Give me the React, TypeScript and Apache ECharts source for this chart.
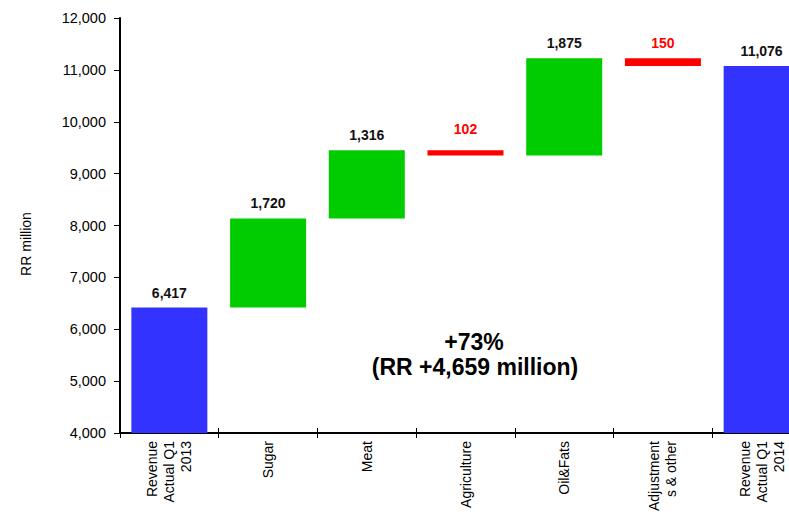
import React, { useEffect, useRef } from "react";
import * as echarts from "echarts";

const categories = [
  "Revenue\nActual Q1\n2013",
  "Sugar",
  "Meat",
  "Agriculture",
  "Oil&Fats",
  "Adjustment\ns & other",
  "Revenue\nActual Q1\n2014",
];
const changes = [6417, 1720, 1316, -102, 1875, -150, 11076];
const kinds = ["total", "delta", "delta", "delta", "delta", "delta", "total"];
const yTicks = { min: 4000, max: 12000, interval: 1000 };
const annotationLines = ["+73%", "(RR +4,659 million)"];
const yAxisTitle = "RR million";

const COLORS = { total: "#3333ff", up: "#00cc00", down: "#ff0000" };
const FONT = "'Liberation Sans', Arial, sans-serif";

function fmt(v: number) {
  return Math.abs(v).toLocaleString("en-US");
}

export default function App() {
  const ref = useRef<HTMLDivElement>(null);
  useEffect(() => {
    if (!ref.current) return;
    const chart = echarts.init(ref.current, undefined, { renderer: "svg" });

    const bases: number[] = [];
    const heights: any[] = [];
    let running = 0;
    changes.forEach((c, i) => {
      let base = 0;
      let h = 0;
      let color = COLORS.total;
      if (kinds[i] === "total") {
        base = 0;
        h = c;
        running = c;
      } else if (c >= 0) {
        base = running;
        h = c;
        running += c;
        color = COLORS.up;
      } else {
        base = running + c;
        h = -c;
        running += c;
        color = COLORS.down;
      }
      bases.push(base);
      heights.push({
        value: h,
        itemStyle: { color },
        label: {
          color: color === COLORS.down ? "#ff0000" : "#111",
          distance: i === 3 ? 14 : 8,
        },
      });
    });

    chart.setOption({
      animation: false,
      backgroundColor: "#ffffff",
      grid: {
        left: 120,
        right: -22,
        top: 18,
        bottom: 79,
        containLabel: false,
        outerBoundsMode: "none",
      },
      xAxis: [
        {
          type: "category",
          data: categories,
          position: "bottom",
          axisLine: { lineStyle: { color: "#000", width: 2 } },
          axisTick: { show: true, length: 5, lineStyle: { color: "#000", width: 1 } },
          axisLabel: {
            interval: 0,
            rotate: 90,
            fontSize: 14,
            lineHeight: 17,
            margin: 8,
            color: "#000",
            fontFamily: FONT,
          },
        },
        {
          type: "category",
          data: categories,
          position: "bottom",
          axisLine: { show: false },
          axisTick: { show: true, inside: true, length: 5, lineStyle: { color: "#000", width: 1 } },
          axisLabel: { show: false },
        },
      ],
      yAxis: {
        type: "value",
        min: yTicks.min,
        max: yTicks.max,
        interval: yTicks.interval,
        splitLine: { show: false },
        axisLine: { show: true, lineStyle: { color: "#000", width: 2 } },
        axisTick: { show: true, length: 6, lineStyle: { color: "#000", width: 1 } },
        axisLabel: {
          fontSize: 14.5,
          margin: 14,
          color: "#000",
          fontFamily: FONT,
          formatter: (v: number) => v.toLocaleString("en-US"),
        },
      },
      series: [
        {
          type: "bar",
          stack: "w",
          xAxisIndex: 0,
          data: bases,
          barWidth: 76,
          itemStyle: { color: "transparent" },
          silent: true,
        },
        {
          type: "bar",
          stack: "w",
          xAxisIndex: 0,
          data: heights,
          barWidth: 76,
          label: {
            show: true,
            position: "top",
            fontSize: 14,
            fontWeight: "bold",
            fontFamily: FONT,
            formatter: (p: any) => fmt(changes[p.dataIndex]),
          },
        },
      ],
      graphic: [
        {
          type: "text",
          x: 26,
          y: 244,
          rotation: Math.PI / 2,
          style: {
            text: yAxisTitle,
            fontSize: 14,
            fontFamily: FONT,
            fill: "#000",
            align: "center",
            verticalAlign: "middle",
          },
        },
        {
          type: "text",
          x: 474,
          y: 342,
          style: {
            text: annotationLines[0],
            fontSize: 23,
            fontWeight: "bold",
            fontFamily: FONT,
            fill: "#000",
            align: "center",
            verticalAlign: "middle",
          },
        },
        {
          type: "text",
          x: 475,
          y: 367,
          style: {
            text: annotationLines[1],
            fontSize: 23,
            fontWeight: "bold",
            fontFamily: FONT,
            fill: "#000",
            align: "center",
            verticalAlign: "middle",
          },
        },
      ],
    });
    return () => chart.dispose();
  }, []);
  return (
    <div
      ref={ref}
      style={{ position: "fixed", left: 0, top: 0, width: 789, height: 512, background: "#fff" }}
    />
  );
}
